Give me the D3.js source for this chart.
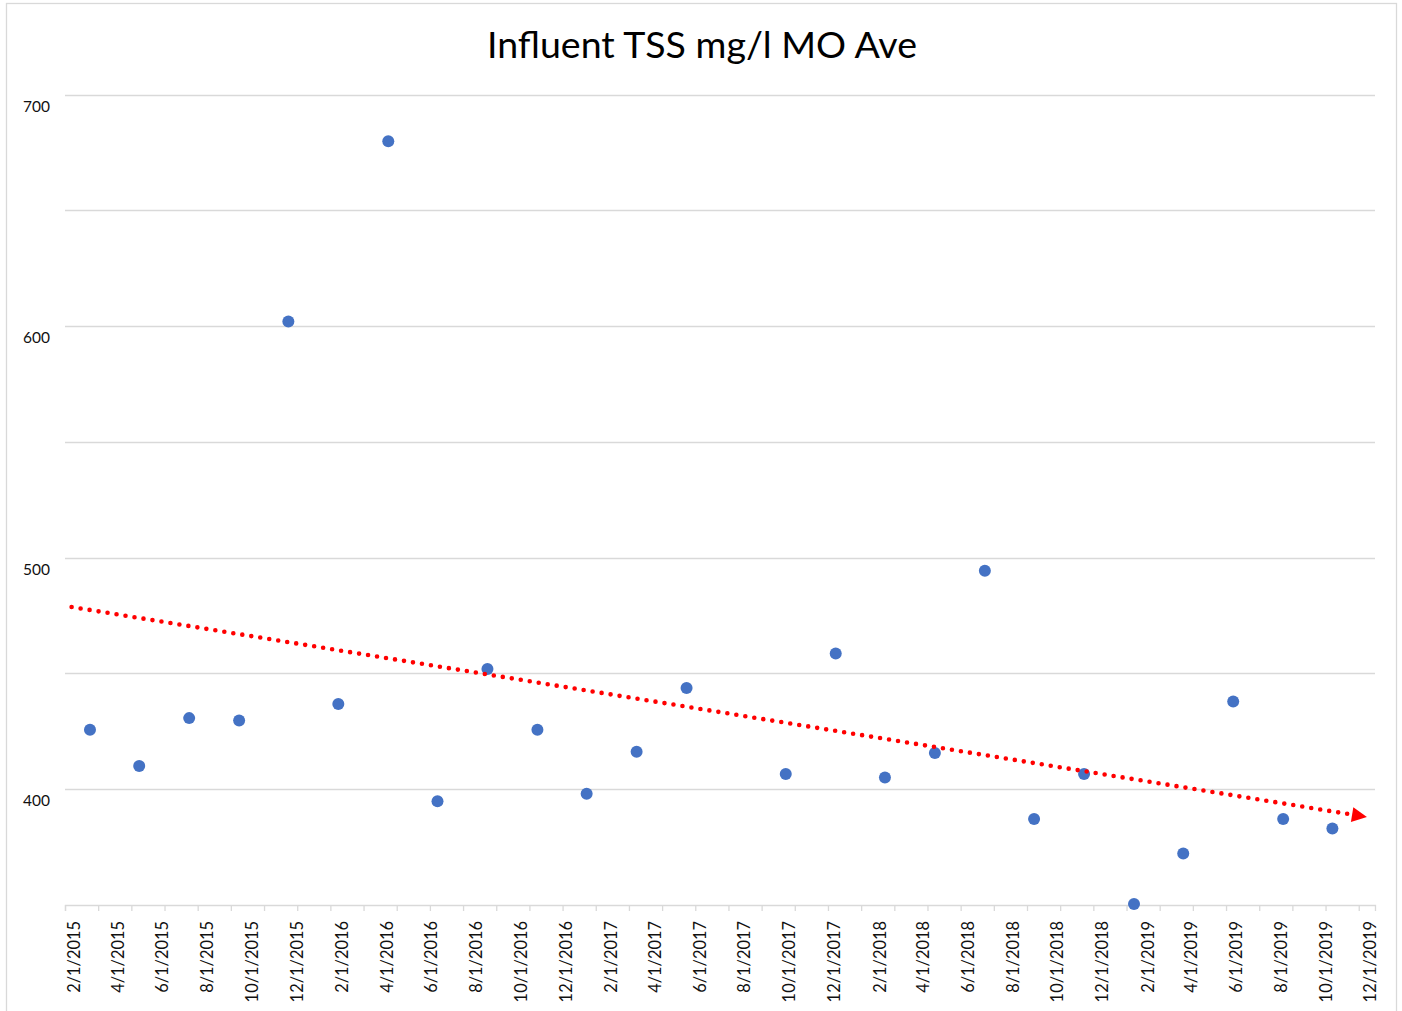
<!DOCTYPE html>
<html>
<head>
<meta charset="utf-8">
<script src="https://cdn.jsdelivr.net/npm/d3@7"></script>
<style>
  html, body { margin: 0; padding: 0; background: #ffffff; }
  svg { display: block; }
  text { font-family: Lato, "Open Sans", "Liberation Sans", sans-serif; }
</style>
</head>
<body>
<svg id="chart" width="1402" height="1011"></svg>
<script>
// ---- data ----
const title = "Influent TSS mg/l MO Ave";
const sampleDates = ["2015-02-23", "2015-05-01", "2015-07-08", "2015-09-14", "2015-11-20",
  "2016-01-27", "2016-04-04", "2016-06-10", "2016-08-17", "2016-10-24", "2016-12-30",
  "2017-03-08", "2017-05-15", "2017-09-27", "2017-12-04", "2018-02-09", "2018-04-18",
  "2018-06-25", "2018-08-31", "2018-11-07", "2019-01-14", "2019-03-22", "2019-05-29",
  "2019-08-05", "2019-10-11"];
const tssValues = [425.7, 410.0, 430.7, 429.7, 602.0, 436.8, 679.8, 394.8, 451.9, 425.7,
  398.0, 416.2, 443.7, 406.6, 458.6, 405.1, 415.6, 494.3, 387.1, 406.6, 350.4, 372.2,
  437.9, 387.1, 383.0];
const xLabelDates = ["2015-02-01", "2015-04-01", "2015-06-01", "2015-08-01", "2015-10-01", "2015-12-01",
  "2016-02-01", "2016-04-01", "2016-06-01", "2016-08-01", "2016-10-01", "2016-12-01",
  "2017-02-01", "2017-04-01", "2017-06-01", "2017-08-01", "2017-10-01", "2017-12-01",
  "2018-02-01", "2018-04-01", "2018-06-01", "2018-08-01", "2018-10-01", "2018-12-01",
  "2019-02-01", "2019-04-01", "2019-06-01", "2019-08-01", "2019-10-01", "2019-12-01"];
const yGridValues = [350, 400, 450, 500, 550, 600, 650, 700];
const yLabelValues = [400, 500, 600, 700];
const xDomain = ["2015-01-20", "2019-12-08"];
const yDomain = [350, 700];
const trendStartDate = "2015-01-29";
const trendTipDate = "2019-11-27";

// ---- setup ----
const parse = d3.utcParse("%Y-%m-%d");
const fmt = d => `${d.getUTCMonth() + 1}/${d.getUTCDate()}/${d.getUTCFullYear()}`;
const svg = d3.select("#chart");

const x = d3.scaleUtc().domain(xDomain.map(parse)).range([65, 1375]);
const y = d3.scaleLinear().domain(yDomain).range([905, 94.5]);

const gridColor = "#d9d9d9";

// chart border
svg.append("rect")
  .attr("x", 6.5).attr("y", 3.5).attr("width", 1390).attr("height", 1010)
  .attr("fill", "none").attr("stroke", gridColor).attr("stroke-width", 1.3);

// title
svg.append("text")
  .attr("x", 702).attr("y", 58)
  .attr("text-anchor", "middle")
  .attr("font-size", 37.5)
  .attr("fill", "#000")
  .text(title);

// horizontal gridlines
svg.append("g").selectAll("line")
  .data(yGridValues.filter(v => v !== 350))
  .join("line")
  .attr("x1", 65).attr("x2", 1375)
  .attr("y1", d => Math.round(y(d)) + 0.5).attr("y2", d => Math.round(y(d)) + 0.5)
  .attr("stroke", gridColor).attr("stroke-width", 1.3);

// y labels (offset below gridlines as in reference)
svg.append("g").selectAll("text")
  .data(yLabelValues)
  .join("text")
  .attr("x", 23).attr("y", d => y(d) + 11)
  .attr("dominant-baseline", "central")
  .attr("font-size", 15.5)
  .attr("fill", "#111")
  .text(d => d);

// x axis (tick marks every ~45 days)
const x0 = x.domain()[0].getTime();
const x1 = x.domain()[1].getTime();
const tickStep = 45.15 * 86400000;
const tickDates = d3.range(x0, x1 - 86400000 * 5, tickStep).map(t => new Date(t));
const xAxis = d3.axisBottom(x).tickValues(tickDates).tickSize(6).tickFormat("");
const gx = svg.append("g").attr("transform", "translate(0,905)").call(xAxis);
gx.select(".domain").attr("stroke", gridColor).attr("stroke-width", 1.3);
gx.selectAll(".tick line").attr("stroke", gridColor).attr("stroke-width", 1.3);

// x labels (rotated)
svg.append("g").selectAll("text")
  .data(xLabelDates.map(parse))
  .join("text")
  .attr("transform", d => `translate(${x(d)},921) rotate(-90)`)
  .attr("text-anchor", "end")
  .attr("dominant-baseline", "central")
  .attr("font-size", 16.4)
  .attr("fill", "#111")
  .text(fmt);

// points
const pts = sampleDates.map((d, i) => ({ date: parse(d), value: tssValues[i] }));
svg.append("g").selectAll("circle")
  .data(pts)
  .join("circle")
  .attr("cx", d => x(d.date)).attr("cy", d => y(d.value))
  .attr("r", 6)
  .attr("fill", "#4472c4");

// linear trendline (least squares on the data)
const xs = pts.map(p => p.date.getTime());
const ys = pts.map(p => p.value);
const mx = d3.mean(xs), my = d3.mean(ys);
const slope = d3.sum(xs, (v, i) => (v - mx) * (ys[i] - my)) / d3.sum(xs, v => (v - mx) * (v - mx));
const trend = t => my + slope * (t - mx);

const tStart = parse(trendStartDate).getTime();
const tTip = parse(trendTipDate).getTime();
const tipPx = [x(new Date(tTip)), y(trend(tTip))];
const startPx = [x(new Date(tStart)), y(trend(tStart))];
const ang = Math.atan2(tipPx[1] - startPx[1], tipPx[0] - startPx[0]);
const arrowLen = 15, arrowHalf = 7.5;
const basePx = [tipPx[0] - arrowLen * Math.cos(ang), tipPx[1] - arrowLen * Math.sin(ang)];

svg.append("line")
  .attr("x1", startPx[0]).attr("y1", startPx[1])
  .attr("x2", basePx[0] - 3 * Math.cos(ang)).attr("y2", basePx[1] - 3 * Math.sin(ang))
  .attr("stroke", "#ff0000")
  .attr("stroke-width", 4.6)
  .attr("stroke-linecap", "round")
  .attr("stroke-dasharray", "0 9.1");

const px = -Math.sin(ang), py = Math.cos(ang);
svg.append("path")
  .attr("d", `M${tipPx[0]},${tipPx[1]} L${basePx[0] + px * arrowHalf},${basePx[1] + py * arrowHalf} L${basePx[0] - px * arrowHalf},${basePx[1] - py * arrowHalf} Z`)
  .attr("fill", "#ff0000");
</script>
</body>
</html>
